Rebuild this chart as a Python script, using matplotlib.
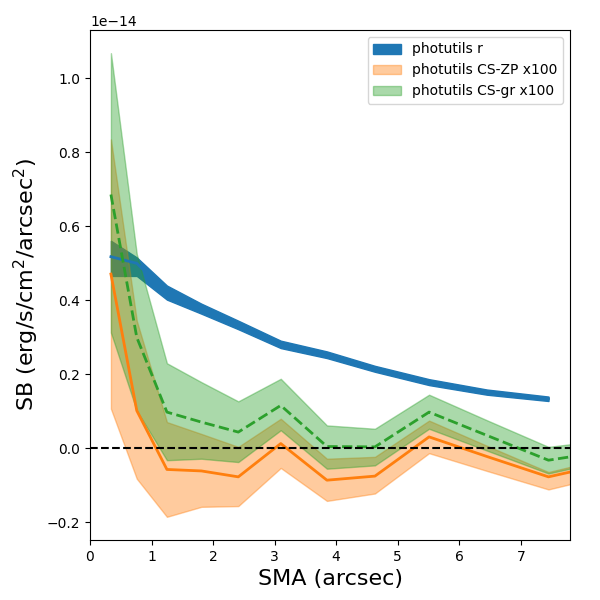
import numpy as np
import matplotlib
matplotlib.use('Agg')
import matplotlib.pyplot as plt

# SB profiles, in units of 1e-14 erg/s/cm^2/arcsec^2
sma = [0.34, 0.76, 1.25, 1.81, 2.41, 3.10, 3.85, 4.63, 5.51, 6.45, 7.45, 8.5]

# photutils r (only to 7.45")
r_mid = [0.518, 0.500, 0.420, 0.377, 0.333, 0.281, 0.253, 0.215, 0.179, 0.152, 0.134]
r_lo = [0.466, 0.466, 0.402, 0.364, 0.322, 0.271, 0.244, 0.207, 0.171, 0.145, 0.128]
r_hi = [0.561, 0.516, 0.440, 0.391, 0.345, 0.291, 0.262, 0.223, 0.187, 0.159, 0.140]

# photutils CS-ZP x100
zp_mid = [0.471, 0.102, -0.057, -0.061, -0.077, 0.013, -0.086, -0.075, 0.031, -0.022, -0.077, -0.038]
zp_lo = [0.107, -0.082, -0.185, -0.158, -0.156, -0.053, -0.142, -0.122, -0.013, -0.061, -0.111, -0.069]
zp_hi = [0.835, 0.345, 0.071, 0.039, 0.004, 0.080, -0.028, -0.023, 0.075, 0.007, -0.064, -0.022]

# photutils CS-gr x100
gr_mid = [0.686, 0.300, 0.098, 0.071, 0.044, 0.116, 0.005, 0.004, 0.098, 0.035, -0.032, -0.005]
gr_lo = [0.313, 0.102, -0.032, -0.028, -0.037, 0.049, -0.055, -0.046, 0.053, -0.006, -0.068, -0.029]
gr_hi = [1.068, 0.525, 0.230, 0.179, 0.127, 0.188, 0.062, 0.053, 0.145, 0.076, 0.004, 0.025]

scale = 1e-14


def sc(v):
    return np.array(v) * scale


x = np.array(sma)
xr = x[:len(r_mid)]

fig, ax = plt.subplots(figsize=(6, 6), dpi=100)
plt.subplots_adjust(left=0.15, right=0.95, bottom=0.1, top=0.95)

ax.fill_between(xr, sc(r_lo), sc(r_hi), color='C0', label='photutils r')
ax.fill_between(x, sc(zp_lo), sc(zp_hi), color='C1', alpha=0.4, label='photutils CS-ZP x100')
ax.fill_between(x, sc(gr_lo), sc(gr_hi), color='C2', alpha=0.4, label='photutils CS-gr x100')

ax.plot(xr, sc(r_mid), color='C0', lw=2)
ax.plot(x, sc(zp_mid), color='C1', lw=2)
ax.plot(x, sc(gr_mid), color='C2', lw=2, ls='--')

ax.axhline(0, color='k', ls='--', lw=1.5)

ax.set_xlim(0, 7.8)
ax.set_xlabel('SMA (arcsec)', fontsize=16)
ax.set_ylabel('SB (erg/s/cm$^2$/arcsec$^2$)', fontsize=16)
ax.legend(loc='upper right')

plt.savefig('out.png')
